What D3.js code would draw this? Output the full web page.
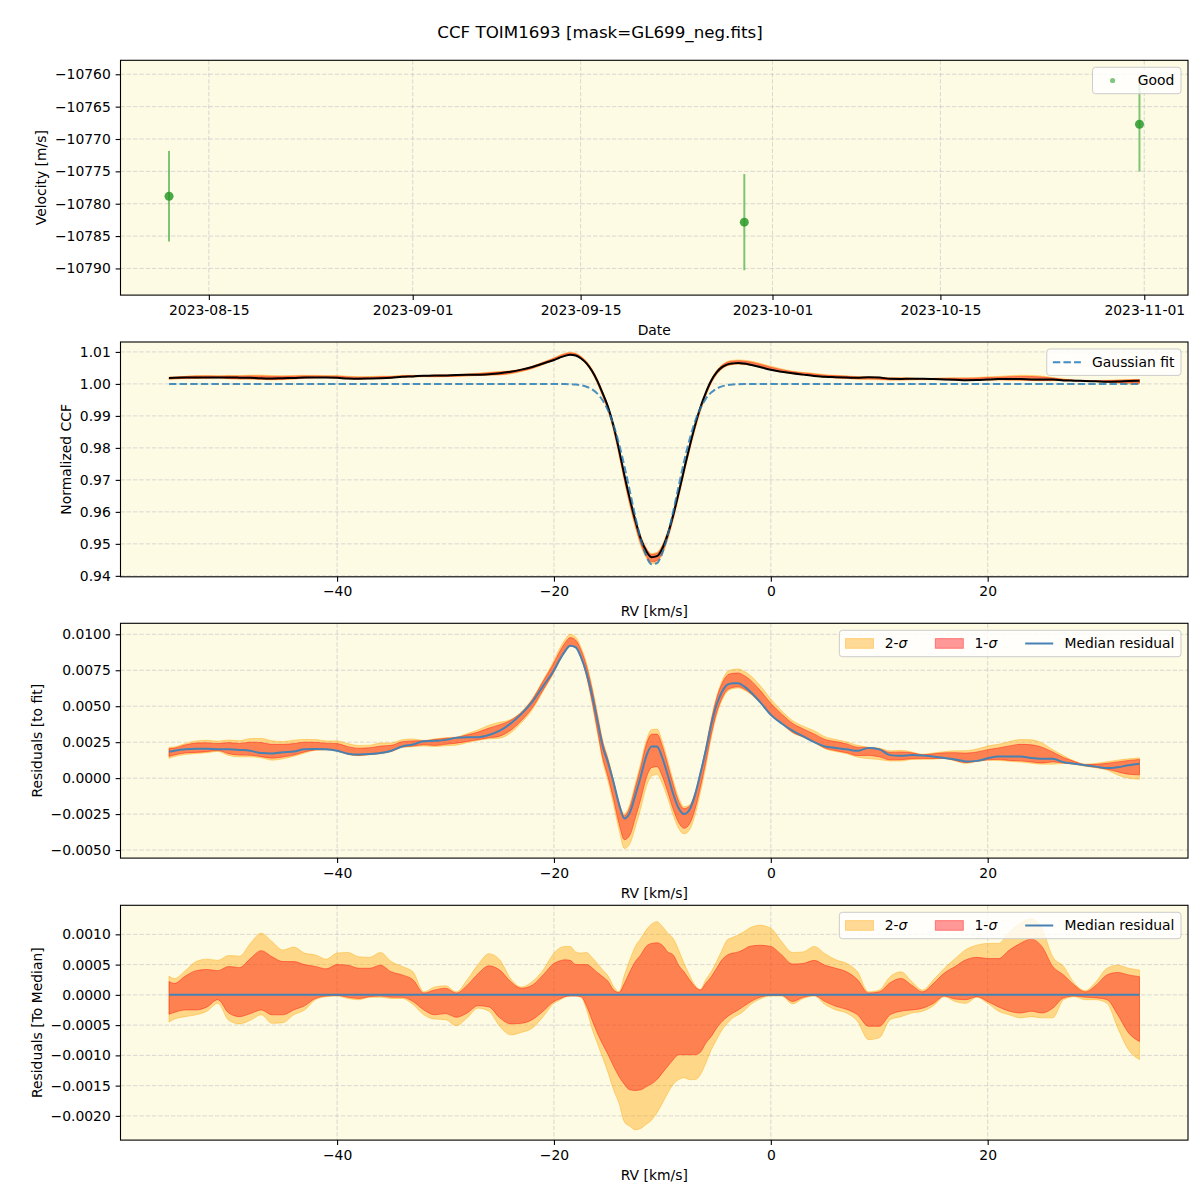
<!DOCTYPE html>
<html><head><meta charset="utf-8">
<script src="https://cdn.jsdelivr.net/npm/d3@7/dist/d3.min.js"></script>
<style>html,body{margin:0;padding:0;background:#fff;}</style>
</head><body>
<svg id="chart" width="1200" height="1200" xmlns="http://www.w3.org/2000/svg"></svg>
<script>
// ---------------- DATA ----------------
const chartTitle = "CCF TOIM1693 [mask=GL699_neg.fits]";
const obsTimes = ["2023-08-11T16:19:00Z", "2023-09-28T15:36:00Z", "2023-10-31T14:24:00Z"];
const obsVelocity = [-10778.84, -10782.85, -10767.72];
const obsError = [7.0, 7.43, 7.31];

const rv = [
 -55.5,-55,-54,-53,-52,-51,-50,-49,-48,-47,
 -46,-45,-44,-43,-42,-41,-40,-39,-38,-37,
 -36,-35,-34,-33,-32,-31,-30,-29,-28,-27,
 -26,-25,-24,-23,-22,-21,-20,-19.5,-19,-18.5,
 -18,-17.5,-17,-16.5,-16,-15.5,-15,-14.5,-14,-13.5,
 -13,-12.5,-12,-11.5,-11,-10.5,-10,-9.5,-9,-8.5,
 -8,-7.5,-7,-6.5,-6,-5.5,-5,-4.5,-4,-3.5,
 -3,-2.5,-2,-1,0,1,2,3,4,5,
 6,7,8,9,10,11,12,13,14,15,
 16,17,18,19,20,21,22,23,24,25,
 26,27,28,29,30,31,32,33,34];

const gaussFit = [
 1,1,1,1,1,1,1,1,1,1,
 1,1,1,1,1,1,1,1,1,1,
 1,1,1,1,1,1,1,1,1,1,
 1,1,1,1,1,1,0.99999,0.99998,0.99996,0.99991,
 0.99979,0.99956,0.99911,0.99831,0.99696,0.99481,0.99162,0.98712,0.98130,0.97427,
 0.96646,0.95859,0.95155,0.94632,0.94364,0.94395,0.94719,0.95285,0.96013,0.96806,
 0.97576,0.98257,0.98813,0.99234,0.99532,0.99729,0.99851,0.99923,0.99962,0.99982,
 0.99992,0.99997,1,1,1,1,1,1,1,1,
 1,1,1,1,1,1,1,1,1,1,
 1,1,1,1,1,1,1,1,1,1,
 1,1,1,1,1,1,1,1,1];

const medianResid = [
 0.00183,0.0019,0.0020,0.00204,0.00204,0.0020,0.0020,0.00196,0.0019,0.00174,
 0.00172,0.0018,0.00185,0.0020,0.00202,0.0020,0.0019,0.0017,0.00164,0.00167,
 0.00174,0.0019,0.0022,0.00234,0.00257,0.0026,0.00266,0.0028,0.00285,0.00285,
 0.0030,0.0033,0.0038,0.00447,0.0053,0.0064,0.0075,0.0082,0.0088,0.0092,
 0.0091,0.0084,0.0073,0.0058,0.0040,0.0022,0.00104,-0.0003,-0.0018,-0.0028,
 -0.0024,-0.0012,0.0001,0.0015,0.0022,0.0022,0.0014,0.0002,-0.0011,-0.0021,
 -0.0025,-0.0022,-0.0012,0.0003,0.0019,0.0037,0.0051,0.0060,0.0065,0.0066,
 0.0066,0.0064,0.0061,0.0053,0.0044,0.0038,0.0033,0.0029,0.0025,0.0022,
 0.0021,0.0020,0.0019,0.0021,0.0020,0.0016,0.00155,0.0016,0.00158,0.0015,
 0.0014,0.0013,0.00116,0.0012,0.00138,0.0015,0.0015,0.0015,0.0014,0.00135,
 0.00135,0.0011,0.0010,0.0009,0.0008,0.0007,0.00076,0.0009,0.0010];

// spread of the residuals around the median (upper / lower 2-sigma and 1-sigma)
const sig2Hi = [
 0.00031,0.00027,0.0004,0.00055,0.00059,0.00057,0.00065,0.00064,0.00085,0.00102,
 0.00088,0.00074,0.00079,0.00069,0.00066,0.00059,0.00069,0.0007,0.00063,0.00062,
 0.0007,0.00055,0.00047,0.00038,0.00005,0.00013,0.00015,0.00005,0.00025,0.0005,
 0.00068,0.00058,0.00027,0.00013,0.00022,0.00041,0.00069,0.00077,0.0008,0.0008,
 0.00071,0.00069,0.0007,0.00062,0.00052,0.00041,0.00031,0.00014,0.00005,0.00033,
 0.00058,0.0008,0.00093,0.00107,0.00117,0.00121,0.00113,0.00102,0.00093,0.00074,
 0.00052,0.00033,0.00016,0.00009,0.00025,0.00038,0.00055,0.00074,0.00091,0.00095,
 0.00099,0.00104,0.0011,0.00115,0.0011,0.00088,0.0007,0.00071,0.0008,0.00068,
 0.00058,0.00052,0.00038,0.00005,0.00008,0.0003,0.00038,0.00022,0.00008,0.00025,
 0.00044,0.0006,0.00075,0.00082,0.00085,0.00085,0.00104,0.00118,0.00126,0.0011,
 0.00063,0.00047,0.00019,0.00007,0.00022,0.00044,0.00049,0.00044,0.00041];
const sig1Hi = [
 0.00022,0.00019,0.00031,0.0004,0.00042,0.0004,0.00047,0.00045,0.0006,0.00073,
 0.00063,0.00055,0.00055,0.0005,0.00047,0.00043,0.0005,0.00049,0.00044,0.00044,
 0.00049,0.00038,0.00033,0.00025,0.00003,0.00008,0.00011,0.00003,0.00016,0.00035,
 0.00048,0.00041,0.00022,0.00011,0.00016,0.00033,0.00052,0.00056,0.00058,0.00057,
 0.0005,0.0005,0.0005,0.00045,0.00037,0.0003,0.00022,0.00008,0.00004,0.00019,
 0.00038,0.00055,0.00066,0.0008,0.00085,0.00086,0.00082,0.00071,0.00066,0.00049,
 0.00038,0.00025,0.00014,0.00008,0.00019,0.0003,0.00044,0.00058,0.00066,0.00069,
 0.00071,0.00075,0.0008,0.00082,0.0008,0.00066,0.00051,0.00052,0.00057,0.00049,
 0.00044,0.00038,0.00025,0.00003,0.00005,0.0002,0.00027,0.00016,0.00005,0.00019,
 0.00036,0.00047,0.00058,0.00062,0.0006,0.0006,0.00074,0.00085,0.00092,0.0008,
 0.00047,0.00033,0.00016,0.00005,0.00016,0.00033,0.00037,0.00033,0.0003];
const sig1Lo = [
 -0.00032,-0.00029,-0.00025,-0.00025,-0.0002,-0.00008,-0.0003,-0.00036,-0.00031,-0.00025,
 -0.00033,-0.00033,-0.00025,-0.00018,-0.00006,-0.00002,-0.00001,-0.00004,-0.00006,-0.00003,
 -0.00002,-0.00004,-0.00004,-0.00011,-0.00025,-0.00033,-0.00031,-0.00037,-0.0003,-0.00018,
 -0.0002,-0.00038,-0.00048,-0.00047,-0.00041,-0.00027,-0.00011,-0.00007,-0.00003,-0.00002,
 -0.00002,-0.00003,-0.00018,-0.00041,-0.00063,-0.00082,-0.00099,-0.00118,-0.00135,-0.00148,
 -0.00157,-0.00158,-0.00157,-0.00152,-0.00147,-0.0014,-0.00129,-0.00118,-0.00107,-0.00099,
 -0.00099,-0.00099,-0.00099,-0.00095,-0.0008,-0.00069,-0.00055,-0.00044,-0.00036,-0.0003,
 -0.00025,-0.00019,-0.00013,-0.00004,-0.00001,-0.00001,-0.00011,-0.00004,-0.00001,-0.00011,
 -0.00019,-0.00024,-0.00033,-0.00052,-0.00052,-0.00033,-0.00027,-0.00025,-0.00022,-0.00014,
 -0.00002,-0.00007,-0.00008,-0.00003,-0.00011,-0.0002,-0.00027,-0.0003,-0.00027,-0.0003,
 -0.00022,-0.00005,-0.00002,-0.00004,-0.00005,-0.00008,-0.00033,-0.00063,-0.00077];
const sig2Lo = [
 -0.00045,-0.0004,-0.00036,-0.00033,-0.00027,-0.00014,-0.00042,-0.00048,-0.00042,-0.00033,
 -0.00047,-0.00046,-0.00033,-0.00025,-0.00008,-0.00003,-0.00002,-0.00006,-0.00008,-0.00004,
 -0.00004,-0.00006,-0.00006,-0.00016,-0.00033,-0.0004,-0.00041,-0.00051,-0.00038,-0.00022,
 -0.00027,-0.00052,-0.00066,-0.00062,-0.00055,-0.00036,-0.00014,-0.00009,-0.00004,-0.00002,
 -0.00002,-0.00004,-0.00024,-0.00055,-0.0008,-0.00104,-0.00129,-0.00157,-0.00179,-0.0021,
 -0.00217,-0.00223,-0.00221,-0.00214,-0.00207,-0.00195,-0.00179,-0.00162,-0.00148,-0.0014,
 -0.00137,-0.0014,-0.0014,-0.00132,-0.00113,-0.00091,-0.00074,-0.00058,-0.00047,-0.00038,
 -0.00033,-0.00027,-0.00018,-0.00007,-0.00002,-0.00002,-0.00015,-0.00006,-0.00002,-0.00016,
 -0.00025,-0.0003,-0.00044,-0.00074,-0.00071,-0.00041,-0.00036,-0.0003,-0.00027,-0.00018,
 -0.00003,-0.00011,-0.00014,-0.00004,-0.00014,-0.00027,-0.00033,-0.00038,-0.00036,-0.00038,
 -0.00038,-0.00008,-0.00003,-0.00008,-0.00008,-0.00014,-0.00055,-0.00091,-0.00107];

// tick labels
const dateTicks = ["2023-08-15","2023-09-01","2023-09-15","2023-10-01","2023-10-15","2023-11-01"];
const velTicks = [-10790,-10785,-10780,-10775,-10770,-10765,-10760];
const ccfTicks = [0.94,0.95,0.96,0.97,0.98,0.99,1.00,1.01];
const resTicks = [-0.005,-0.0025,0,0.0025,0.005,0.0075,0.01];
const medTicks = [-0.002,-0.0015,-0.001,-0.0005,0,0.0005,0.001];
const rvTicks = [-40,-20,0,20];

// ---------------- LAYOUT / STYLE ----------------
const FONT = '"DejaVu Sans", sans-serif';
const FS = 13.9;
const BG = '#fdfbe3';
const ORANGE = '#ffa500', RED = '#ff0000';
const left = 120.5, right = 1188, axH = 234.8;
const axTops = [60.3, 342.0, 623.3, 905.3];

const svg = d3.select('#chart');
svg.append('rect').attr('width',1200).attr('height',1200).attr('fill','#fff');
svg.append('text').attr('x',600).attr('y',38).attr('text-anchor','middle')
  .attr('font-family',FONT).attr('font-size',16.7).attr('fill','#000').text(chartTitle);

function makePanel(top, x, y, xt, yt) {
  const bottom = top + axH;
  const g = svg.append('g');
  g.append('rect').attr('x',left).attr('y',top).attr('width',right-left).attr('height',axH).attr('fill',BG);
  const grid = g.append('g').attr('stroke','#b0b0c0').attr('stroke-opacity',0.6)
    .attr('stroke-width',0.8).attr('stroke-dasharray','4.4,1.9').attr('fill','none');
  xt.forEach(v => grid.append('line').attr('x1',x(v)).attr('x2',x(v)).attr('y1',top).attr('y2',bottom));
  yt.forEach(v => grid.append('line').attr('x1',left).attr('x2',right).attr('y1',y(v)).attr('y2',y(v)));
  const plot = g.append('g');
  const axes = g.append('g');
  const leg = g.append('g');
  return {top, bottom, plot, axes, leg};
}

function drawAxes(p, x, y, xt, yt, xf, yf, xlab, ylab) {
  const xa = p.axes.append('g').attr('transform',`translate(0,${p.bottom})`)
    .call(d3.axisBottom(x).tickValues(xt).tickFormat(xf).tickSize(4.86).tickPadding(4.86).tickSizeOuter(0));
  const ya = p.axes.append('g').attr('transform',`translate(${left},0)`)
    .call(d3.axisLeft(y).tickValues(yt).tickFormat(yf).tickSize(4.86).tickPadding(4.86).tickSizeOuter(0));
  [xa, ya].forEach(a => {
    a.select('.domain').remove();
    a.attr('font-family',FONT).attr('font-size',FS);
    a.selectAll('line').attr('stroke','#000').attr('stroke-width',1.1);
    a.selectAll('text').attr('fill','#000');
  });
  let maxW = 0;
  ya.selectAll('text').each(function(){ maxW = Math.max(maxW, this.getComputedTextLength()); });
  p.axes.append('rect').attr('x',left).attr('y',p.top).attr('width',right-left).attr('height',axH)
    .attr('fill','none').attr('stroke','#000').attr('stroke-width',1.1);
  p.axes.append('text').attr('x',(left+right)/2).attr('y',p.bottom+39.5).attr('text-anchor','middle')
    .attr('font-family',FONT).attr('font-size',FS).attr('fill','#000').text(xlab);
  const lx = left - 9.72 - maxW - 5.56 - 3.3;
  p.axes.append('text').attr('transform',`translate(${lx},${(p.top+p.bottom)/2}) rotate(-90)`)
    .attr('text-anchor','middle').attr('font-family',FONT).attr('font-size',FS).attr('fill','#000').text(ylab);
}

function sigmaLabel(t, n) {
  t.append('tspan').text(n + '-');
  t.append('tspan').attr('font-style','italic').text('σ');
}

function legend(p, items) {
  const pad = 5.6, hl = 28, htp = 11.2, cs = 28, boxH = 26.4;
  const lg = p.leg.append('g');
  const box = lg.append('rect');
  const texts = items.map(it => {
    const t = lg.append('text').attr('font-family',FONT).attr('font-size',FS).attr('fill','#000');
    if (it.sigma) sigmaLabel(t, it.sigma); else t.text(it.label);
    return t;
  });
  const widths = texts.map(t => t.node().getComputedTextLength());
  const boxW = 2*pad + 1.5 + items.length*(hl+htp) + d3.sum(widths) + cs*(items.length-1);
  const bx = right - 7 - boxW, by = p.top + 7;
  box.attr('x',bx).attr('y',by).attr('width',boxW).attr('height',boxH).attr('rx',3)
    .attr('fill','#fff').attr('fill-opacity',0.8).attr('stroke','#cccccc').attr('stroke-width',1);
  const cy = by + boxH/2;
  let cx = bx + pad + 0.5;
  items.forEach((it,i) => {
    if (it.type === 'patch') {
      lg.append('rect').attr('x',cx).attr('y',cy-4.9).attr('width',hl).attr('height',9.7)
        .attr('fill',it.color).attr('fill-opacity',it.op).attr('stroke',it.color).attr('stroke-opacity',it.op);
    } else if (it.type === 'line') {
      lg.append('line').attr('x1',cx).attr('x2',cx+hl).attr('y1',cy).attr('y2',cy)
        .attr('stroke',it.color).attr('stroke-width',2).attr('stroke-dasharray',it.dash || null);
    } else if (it.type === 'dot') {
      lg.append('circle').attr('cx',cx+hl/2).attr('cy',cy).attr('r',2.6)
        .attr('fill',it.color).attr('fill-opacity',0.6);
    }
    texts[i].attr('x',cx+hl+htp).attr('y',cy+4.9);
    cx += hl + htp + widths[i] + cs;
  });
}

const fmt2 = d3.format('.2f'), fmt4 = d3.format('.4f'), fmt0 = d3.format('d');

// ---------------- PANEL 1: velocities ----------------
const dates = obsTimes.map(d => new Date(d));
const tExt = d3.extent(dates).map(d => +d);
const tPad = (tExt[1]-tExt[0])*0.05;
const x1 = d3.scaleUtc().domain([new Date(tExt[0]-tPad), new Date(tExt[1]+tPad)]).range([left,right]);
const y1 = d3.scaleLinear().domain([-10794.12, -10757.84]).range([axTops[0]+axH, axTops[0]]);
const dateTickVals = dateTicks.map(d => new Date(d + 'T00:00:00Z'));
const p1 = makePanel(axTops[0], x1, y1, dateTickVals, velTicks);
const obs = dates.map((d,i) => ({d, v: obsVelocity[i], e: obsError[i]}));
p1.plot.selectAll('line.eb').data(obs).join('line').attr('class','eb')
  .attr('x1',o=>x1(o.d)).attr('x2',o=>x1(o.d)).attr('y1',o=>y1(o.v-o.e)).attr('y2',o=>y1(o.v+o.e))
  .attr('stroke','#2ca02c').attr('stroke-opacity',0.6).attr('stroke-width',2);
p1.plot.selectAll('circle').data(obs).join('circle')
  .attr('cx',o=>x1(o.d)).attr('cy',o=>y1(o.v)).attr('r',4.5)
  .attr('fill','#2a9a2a').attr('fill-opacity',0.85);
drawAxes(p1, x1, y1, dateTickVals, velTicks, d3.utcFormat('%Y-%m-%d'), fmt0, 'Date', 'Velocity [m/s]');
legend(p1, [{type:'dot', color:'#2ca02c', label:'Good'}]);

// ---------------- RV scale ----------------
const rvExt = d3.extent(rv);
const rvPad = (rvExt[1]-rvExt[0])*0.05;
const xr = d3.scaleLinear().domain([rvExt[0]-rvPad, rvExt[1]+rvPad]).range([left,right]);
const curve = d3.curveMonotoneX;

function bands(p, y, base) {
  const a2 = d3.area().curve(curve).x((d,i)=>xr(rv[i]))
    .y0((d,i)=>y(base[i]+sig2Lo[i])).y1((d,i)=>y(base[i]+sig2Hi[i]));
  const a1 = d3.area().curve(curve).x((d,i)=>xr(rv[i]))
    .y0((d,i)=>y(base[i]+sig1Lo[i])).y1((d,i)=>y(base[i]+sig1Hi[i]));
  p.plot.append('path').datum(rv).attr('d',a2).attr('fill',ORANGE).attr('fill-opacity',0.4)
    .attr('stroke',ORANGE).attr('stroke-opacity',0.4).attr('stroke-width',1);
  p.plot.append('path').datum(rv).attr('d',a1).attr('fill',RED).attr('fill-opacity',0.4)
    .attr('stroke',RED).attr('stroke-opacity',0.4).attr('stroke-width',1);
}

// ---------------- PANEL 2: CCF ----------------
const ccfMedian = gaussFit.map((g,i) => g + medianResid[i]);
const y2 = d3.scaleLinear().domain([0.9397, 1.0131]).range([axTops[1]+axH, axTops[1]]);
const p2 = makePanel(axTops[1], xr, y2, rvTicks, ccfTicks);
bands(p2, y2, ccfMedian);
p2.plot.append('path').datum(ccfMedian)
  .attr('d', d3.line().curve(curve).x((d,i)=>xr(rv[i])).y(d=>y2(d)))
  .attr('fill','none').attr('stroke','#000').attr('stroke-width',2);
p2.plot.append('path').datum(gaussFit)
  .attr('d', d3.line().curve(curve).x((d,i)=>xr(rv[i])).y(d=>y2(d)))
  .attr('fill','none').attr('stroke','#1f77b4').attr('stroke-opacity',0.8).attr('stroke-width',2)
  .attr('stroke-dasharray','7.4,3.2');
drawAxes(p2, xr, y2, rvTicks, ccfTicks, d3.format('d'), fmt2, 'RV [km/s]', 'Normalized CCF');
legend(p2, [{type:'line', color:'#3f8dc4', dash:'7.4,3.2', label:'Gaussian fit'}]);

// ---------------- PANEL 3: residuals to fit ----------------
const zeros = rv.map(() => 0);
const y3 = d3.scaleLinear().domain([-0.00556, 0.010765]).range([axTops[2]+axH, axTops[2]]);
const p3 = makePanel(axTops[2], xr, y3, rvTicks, resTicks);
bands(p3, y3, medianResid);
p3.plot.append('path').datum(medianResid)
  .attr('d', d3.line().curve(curve).x((d,i)=>xr(rv[i])).y(d=>y3(d)))
  .attr('fill','none').attr('stroke','#4682b4').attr('stroke-width',2);
drawAxes(p3, xr, y3, rvTicks, resTicks, d3.format('d'), fmt4, 'RV [km/s]', 'Residuals [to fit]');
const resLegend = [
  {type:'patch', color:ORANGE, op:0.4, sigma:'2'},
  {type:'patch', color:RED, op:0.4, sigma:'1'},
  {type:'line', color:'#4682b4', label:'Median residual'}];
legend(p3, resLegend);

// ---------------- PANEL 4: residuals to median ----------------
const y4 = d3.scaleLinear().domain([-0.0024, 0.00148]).range([axTops[3]+axH, axTops[3]]);
const p4 = makePanel(axTops[3], xr, y4, rvTicks, medTicks);
bands(p4, y4, zeros);
p4.plot.append('path').datum(zeros)
  .attr('d', d3.line().x((d,i)=>xr(rv[i])).y(d=>y4(d)))
  .attr('fill','none').attr('stroke','#4682b4').attr('stroke-width',2);
drawAxes(p4, xr, y4, rvTicks, medTicks, d3.format('d'), fmt4, 'RV [km/s]', 'Residuals [To Median]');
legend(p4, resLegend);
</script>
</body></html>
